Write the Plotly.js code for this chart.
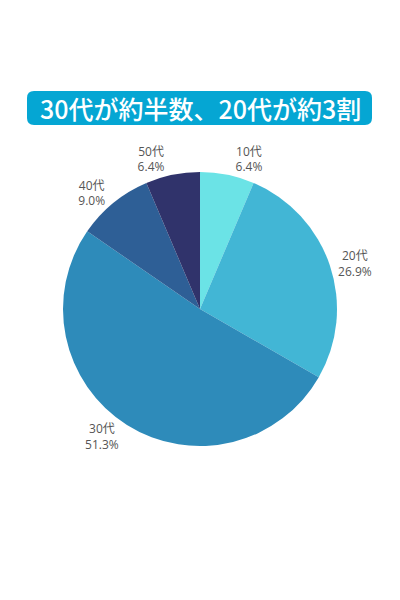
<!DOCTYPE html>
<html><head><meta charset="utf-8">
<script src="https://cdn.plot.ly/plotly-3.0.1.min.js"></script>
<style>html,body{margin:0;padding:0;background:#fff}#chart{width:400px;height:600px}</style>
</head><body><div id="chart"></div>
<script>
const categories = ["10代", "20代", "30代", "40代", "50代"];
const shares = [6.4, 26.9, 51.3, 9.0, 6.4];
const sliceColors = ["#6BE3E6", "#42B6D5", "#2E8BBA", "#2E5F96", "#30336B"];
const titleText = "30代が約半数、20代が約3割";

const W = 400, H = 600;
function px(x){return x / W;}
function py(y){return 1 - y / H;}
const bx0 = 27, bx1 = 372, by0 = 91, by1 = 125, r = 7;
const path = `M ${px(bx0 + r)} ${py(by0)} L ${px(bx1 - r)} ${py(by0)} Q ${px(bx1)} ${py(by0)} ${px(bx1)} ${py(by0 + r)} L ${px(bx1)} ${py(by1 - r)} Q ${px(bx1)} ${py(by1)} ${px(bx1 - r)} ${py(by1)} L ${px(bx0 + r)} ${py(by1)} Q ${px(bx0)} ${py(by1)} ${px(bx0)} ${py(by1 - r)} L ${px(bx0)} ${py(by0 + r)} Q ${px(bx0)} ${py(by0)} ${px(bx0 + r)} ${py(by0)} Z`;

const data = [{
  type: "pie",
  labels: categories,
  values: shares,
  sort: false,
  direction: "clockwise",
  rotation: 0,
  marker: {colors: sliceColors, line: {width: 0}},
  textposition: "outside",
  texttemplate: "%{label}<br>%{value:.1f}%",
  textfont: {family: "Open Sans, Noto Sans CJK JP, sans-serif", size: 12, color: "#555555"},
  outsidetextfont: {family: "Open Sans, Noto Sans CJK JP, sans-serif", size: 12, color: "#555555"},
  hoverinfo: "none",
  showlegend: false,
  domain: {x: [0, 1], y: [py(446), py(172)]}
}];

const layout = {
  width: W, height: H,
  margin: {l: 0, r: 0, t: 0, b: 0},
  paper_bgcolor: "#ffffff",
  showlegend: false,
  shapes: [{type: "path", xref: "paper", yref: "paper", path: path, fillcolor: "#05A6D3", line: {width: 0}, layer: "below"}],
  annotations: [{
    xref: "paper", yref: "paper", x: px(200), y: py(108), xanchor: "center", yanchor: "middle",
    text: titleText, showarrow: false,
    font: {family: "Noto Sans CJK JP, sans-serif", size: 25, weight: 500, color: "#ffffff"}
  }]
};

Plotly.newPlot("chart", data, layout, {staticPlot: true, displayModeBar: false});
</script></body></html>
